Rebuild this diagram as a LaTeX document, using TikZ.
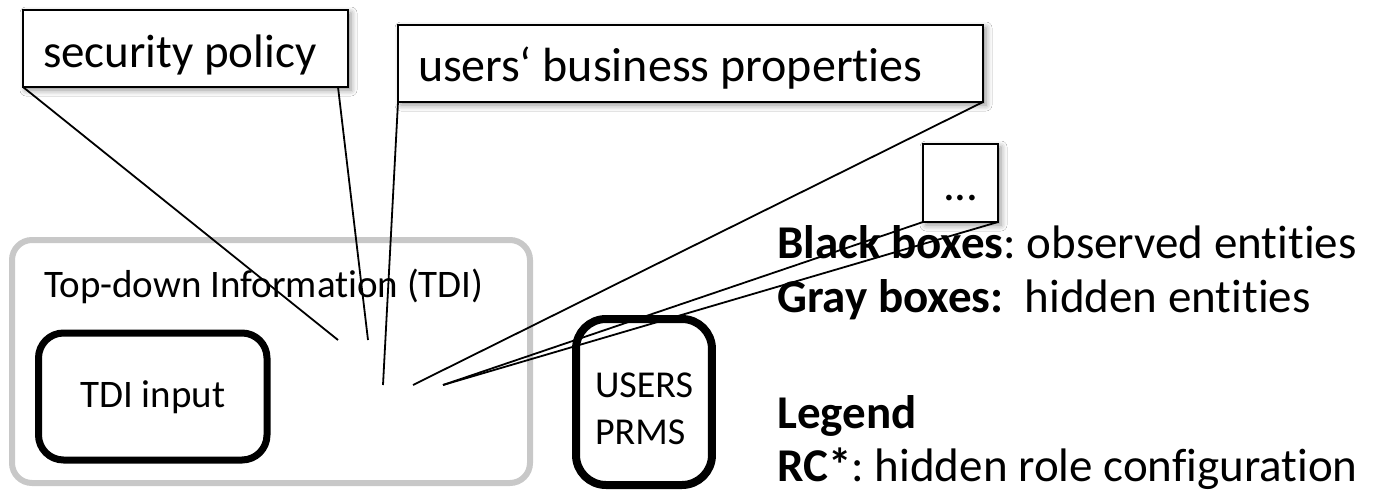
\documentclass[tikz,border=0pt]{standalone}
\usepackage{fontspec}
\setmainfont{Carlito}[Ligatures=NoCommon]
\usetikzlibrary{calc,shadows.blur}
\definecolor{framegray}{RGB}{200,200,200}
\begin{document}
\frenchspacing
\begin{tikzpicture}[x=1pt, y=-1pt,
  bigfont/.style={font=\fontsize{47}{56}\selectfont},
  smallfont/.style={font=\fontsize{39}{47}\selectfont},
  callbox/.style={draw=black, line width=2pt, fill=white, outer sep=0pt,
    inner ysep=0pt, inner xsep=20pt, align=flush left, anchor=base west, bigfont,
    blur shadow={shadow xshift=3pt, shadow yshift=-3pt,
      shadow blur radius=6pt, shadow opacity=45}},
  entitybox/.style={draw=black, fill=white, outer sep=0pt, inner ysep=0pt,
    anchor=base west, smallfont},
  tdiframe/.style={draw=framegray, line width=6pt, rounded corners=20pt,
    outer sep=0pt, inner ysep=0pt, inner xsep=32pt, align=flush left,
    anchor=base west, smallfont},
  legendtext/.style={anchor=base west, inner sep=0pt, bigfont},
  leader/.style={draw=black, line width=1.8pt}
]
\fill[white] (0,0) rectangle (1373,490);
\useasboundingbox (0,0) rectangle (1373,490);

% top-down information frame and its entities
\node[tdiframe, text width=454pt, text height=57pt, text depth=186pt]
  (tdi) at (12,297) {Top-down Information (TDI)};
\node[entitybox, line width=7pt, rounded corners=25pt, align=flush center,
  text width=208.5pt, inner xsep=10pt, text height=74pt, text depth=53pt]
  (inp) at (38.5,407) {TDI input};
\node[entitybox, line width=8pt, rounded corners=30pt, inner xsep=19pt,
  text height=78pt, text depth=88pt, font=\fontsize{38}{47}\selectfont]
  (prms) at (576,397) {\begin{tabular}[t]{@{}l@{}}USERS\\PRMS\end{tabular}};

% callouts
\node[callbox, text width=285pt, text height=57pt, text depth=20pt]
  (sec) at (23,67) {security policy};
\node[callbox, text width=545pt, text height=56pt, text depth=21pt,
  font=\fontsize{48}{56}\selectfont]
  (usr) at (398,81) {users‘ business properties};
\node[callbox, text width=35pt, text height=56pt, text depth=22pt]
  (etc) at (923,200) {...};

% legend
\node[legendtext] (lg1) at (777,258) {\textbf{Black boxes}: observed entities};
\node[legendtext] (lg2) at (777,312) {\textbf{Gray boxes:}\ \ hidden entities};
\node[legendtext] (lg3) at (777,428) {\textbf{Legend}};
\node[legendtext] (lg4) at (777,481) {\textbf{RC*}: hidden role configuration};

% callout pointer tips
\coordinate (secA) at (338,340);
\coordinate (secB) at (368,340);
\coordinate (usrA) at (383,385);
\coordinate (usrB) at (413,385);
\coordinate (etcP) at (443,385);

\draw[leader] (sec.south west) -- (secA);
\draw[leader] ($(sec.south east)+(-10,0)$) -- (secB);
\draw[leader] (usr.south west) -- (usrA);
\draw[leader] (usr.south east) -- (usrB);
\draw[leader] (etc.south west) -- (etcP);
\draw[leader] (etc.south east) -- (etcP);
\end{tikzpicture}
\end{document}
